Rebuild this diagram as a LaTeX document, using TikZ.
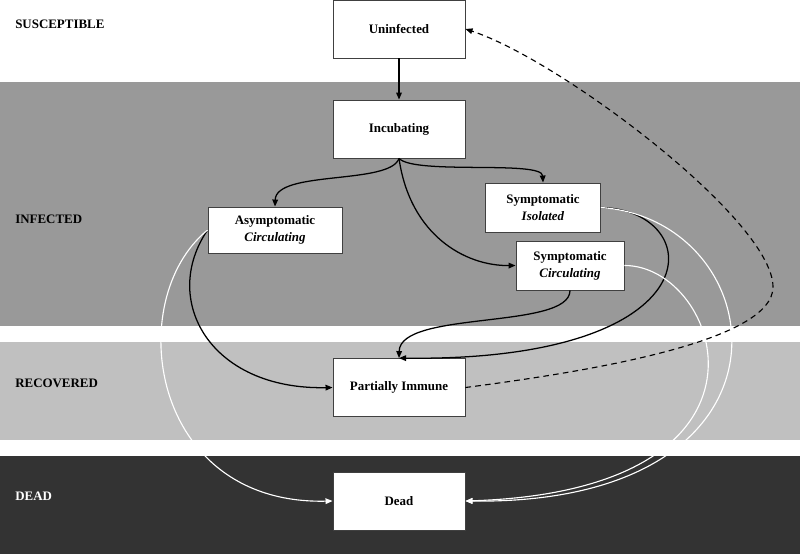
\documentclass[tikz,border=0pt]{standalone}
\usepackage{fontspec}
\setmainfont{Liberation Serif}
\usetikzlibrary{arrows.meta}
\definecolor{bandinf}{RGB}{153,153,153}
\definecolor{bandrec}{RGB}{192,192,192}
\definecolor{banddead}{RGB}{51,51,51}

\begin{document}
\begin{tikzpicture}[x=0.025cm, y=-0.025cm,
  statebox/.style={draw=black!75, fill=white, line width=0.6pt, minimum width=3.3cm,
    minimum height=1.45cm, align=center, inner sep=1pt,
    font=\fontsize{9.2}{12}\selectfont\bfseries},
  bandlabel/.style={anchor=west, inner sep=0pt, font=\fontsize{9.2}{12}\selectfont\bfseries},
  flow/.style={line width=0.9pt, -{Triangle[length=5pt,width=4pt]}},
  deathflow/.style={white, line width=0.8pt, -{Triangle[length=5pt,width=4pt]}},
  returnflow/.style={line width=0.8pt, dash pattern=on 4pt off 3pt, -{Triangle[length=5pt,width=4pt]}}]
  \useasboundingbox (0,0) rectangle (800,554);
  % bands
  \fill[white]    (0,0)   rectangle (800,82);
  \fill[bandinf]  (0,82)  rectangle (800,325.5);
  \fill[bandrec]  (0,342) rectangle (800,440);
  \fill[banddead] (0,456) rectangle (800,554);
  \node[bandlabel] (lsus) at (15,24)  {SUSCEPTIBLE};
  \node[bandlabel] (linf) at (15,219) {INFECTED};
  \node[bandlabel] (lrec) at (15,383) {RECOVERED};
  \node[bandlabel, white] (ldead) at (15,496) {DEAD};
  % states
  \node[statebox] (unin) at (399,29) {Uninfected};
  \node[statebox] (inc) at (399,129) {Incubating};
  \node[statebox, minimum width=3.35cm, minimum height=1.15cm] (asym) at (275,230)
    {Asymptomatic\\\textit{Circulating}};
  \node[statebox, minimum width=2.875cm, minimum height=1.225cm] (symiso) at (543,207.5)
    {Symptomatic\\\textit{Isolated}};
  \node[statebox, minimum width=2.7cm, minimum height=1.225cm] (symcirc) at (570,265.5)
    {Symptomatic\\\textit{Circulating}};
  \node[statebox] (pim) at (399,387.5) {Partially Immune};
  \node[statebox] (dead) at (399,501) {Dead};
  % transitions
  \draw[flow] (unin) -- (inc);
  \draw[flow] (inc.south) .. controls (390,185) and (276,170) .. (asym.north);
  \draw[flow] (inc.south) .. controls (415,175) and (542,160) .. (symiso.north);
  \draw[flow] (inc.south) .. controls (410,235) and (465,266) .. (symcirc.west);
  \draw[flow] (asym.west) .. controls (160,300) and (210,390) .. (pim.west);
  \draw[flow] (symcirc.south) .. controls (570,330) and (400,310) .. (pim.north);
  \draw[flow] (symiso.east) .. controls (708,210) and (718,362) .. (pim.north);
  \draw[deathflow] (asym.west) .. controls (122,300) and (150,505) .. (dead.west);
  \draw[deathflow] (symiso.east) .. controls (775,220) and (815,505) .. (dead.east);
  \draw[deathflow] (symcirc.east) .. controls (720,265) and (800,490) .. (dead.east);
  \draw[returnflow] (pim.east) .. controls (600,370) and (773,340) .. (773,287)
    .. controls (773,220) and (560,60) .. (unin.east);
\end{tikzpicture}
\end{document}
